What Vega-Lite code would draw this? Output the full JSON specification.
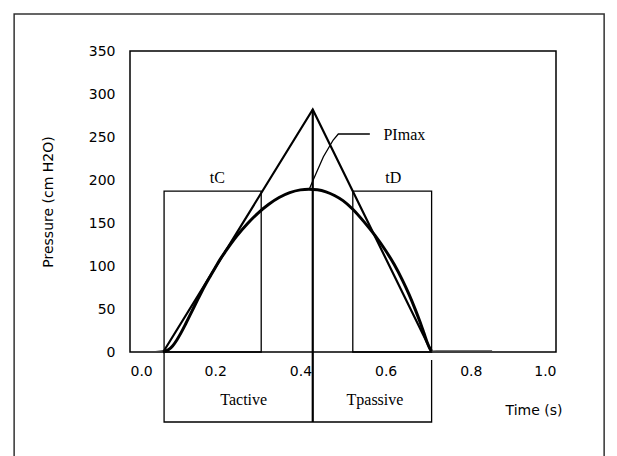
{
  "$schema": "https://vega.github.io/schema/vega-lite/v6.json",
  "width": 426,
  "height": 301,
  "autosize": {"type": "none"},
  "padding": {"left": 130, "top": 51, "right": 61, "bottom": 104},
  "background": "white",
  "config": {
    "view": {"stroke": "black", "strokeWidth": 1.5},
    "axis": {"grid": false, "ticks": false, "domain": false, "labelFont": "DejaVu Sans", "labelFontSize": 14, "labelColor": "black", "titleFont": "DejaVu Sans", "titleFontSize": 14, "titleFontWeight": "normal", "titleColor": "black"}
  },
  "datasets": {
    "curve": [
      {"t": 0.078, "p": 0}, {"t": 0.09, "p": 2.5}, {"t": 0.1, "p": 7}, {"t": 0.11, "p": 14},
      {"t": 0.12, "p": 22.5}, {"t": 0.13, "p": 32}, {"t": 0.145, "p": 47}, {"t": 0.16, "p": 62},
      {"t": 0.175, "p": 76.5}, {"t": 0.19, "p": 89.5}, {"t": 0.2, "p": 98}, {"t": 0.212, "p": 108},
      {"t": 0.225, "p": 117.5}, {"t": 0.25, "p": 134.5}, {"t": 0.275, "p": 148.9}, {"t": 0.3, "p": 161.3},
      {"t": 0.325, "p": 171.5}, {"t": 0.35, "p": 179.6}, {"t": 0.375, "p": 185.3}, {"t": 0.4, "p": 188.5},
      {"t": 0.42, "p": 189.3}, {"t": 0.44, "p": 188.6}, {"t": 0.46, "p": 186.2}, {"t": 0.48, "p": 182},
      {"t": 0.5, "p": 176}, {"t": 0.523, "p": 166}, {"t": 0.55, "p": 151}, {"t": 0.575, "p": 135.5},
      {"t": 0.6, "p": 118}, {"t": 0.62, "p": 102}, {"t": 0.64, "p": 83}, {"t": 0.655, "p": 67},
      {"t": 0.67, "p": 49}, {"t": 0.68, "p": 36}, {"t": 0.69, "p": 22}, {"t": 0.697, "p": 12},
      {"t": 0.703, "p": 5}, {"t": 0.708, "p": 1}
    ],
    "tails": [
      {"seg": "left", "t": 0.045, "p": 0}, {"seg": "left", "t": 0.06, "p": 0.5}, {"seg": "left", "t": 0.078, "p": 1.5},
      {"seg": "right", "t": 0.708, "p": 1}, {"seg": "right", "t": 0.72, "p": 1.2}, {"seg": "right", "t": 0.85, "p": 1.2}
    ],
    "thick": [
      {"seg": "triangle", "o": 1, "t": 0.078, "p": 0},
      {"seg": "triangle", "o": 2, "t": 0.429, "p": 282},
      {"seg": "triangle", "o": 3, "t": 0.708, "p": 0},
      {"seg": "center", "o": 1, "t": 0.429, "p": 282},
      {"seg": "center", "o": 2, "t": 0.429, "p": -81.4}
    ],
    "thin": [
      {"seg": "bracket", "o": 1, "t": 0.08, "p": 0},
      {"seg": "bracket", "o": 2, "t": 0.08, "p": -81.4},
      {"seg": "bracket", "o": 3, "t": 0.708, "p": -81.4},
      {"seg": "bracket", "o": 4, "t": 0.708, "p": -9.3},
      {"seg": "leader", "o": 1, "t": 0.563, "p": 253.5},
      {"seg": "leader", "o": 2, "t": 0.489, "p": 253.5},
      {"seg": "leader", "o": 3, "t": 0.477, "p": 246.5},
      {"seg": "leader", "o": 4, "t": 0.454, "p": 227},
      {"seg": "leader", "o": 5, "t": 0.43, "p": 200},
      {"seg": "leader", "o": 6, "t": 0.421, "p": 189.5}
    ],
    "boxes": [
      {"name": "tC", "t1": 0.08, "t2": 0.308, "p1": 0, "p2": 187},
      {"name": "tD", "t1": 0.523, "t2": 0.708, "p1": 0, "p2": 187}
    ],
    "labels": [
      {"text": "tC", "t": 0.205, "p": 196.2},
      {"text": "tD", "t": 0.618, "p": 196.2},
      {"text": "Tactive", "t": 0.267, "p": -61.6},
      {"text": "Tpassive", "t": 0.575, "p": -61.6}
    ],
    "peak": [
      {"text": "PImax", "t": 0.595, "p": 246.5}
    ],
    "frame": [
      {"t1": -0.272, "t2": 1.113, "p1": -140, "p2": 393}
    ]
  },
  "layer": [
    {
      "data": {"name": "frame"},
      "mark": {"type": "rect", "fill": null, "stroke": "#333333", "strokeWidth": 1.5, "clip": false},
      "encoding": {
        "x": {"field": "t1", "type": "quantitative", "scale": {"domain": [0, 1]}, "axis": {"values": [0, 0.2, 0.4, 0.6, 0.8, 1.0], "format": ".1f", "labelPadding": 12, "title": "Time (s)", "titleX": 432, "titleY": 58, "titleAlign": "right", "titleBaseline": "middle"}},
        "x2": {"field": "t2"},
        "y": {"field": "p1", "type": "quantitative", "scale": {"domain": [0, 350]}, "axis": {"values": [0, 50, 100, 150, 200, 250, 300, 350], "labelPadding": 15, "title": "Pressure (cm H2O)", "titlePadding": 33}},
        "y2": {"field": "p2"}
      }
    },
    {
      "data": {"name": "boxes"},
      "mark": {"type": "rect", "fill": null, "stroke": "black", "strokeWidth": 1.3},
      "encoding": {
        "x": {"field": "t1", "type": "quantitative"},
        "x2": {"field": "t2"},
        "y": {"field": "p1", "type": "quantitative"},
        "y2": {"field": "p2"}
      }
    },
    {
      "data": {"name": "thin"},
      "mark": {"type": "line", "color": "black", "strokeWidth": 1.3},
      "encoding": {
        "x": {"field": "t", "type": "quantitative"},
        "y": {"field": "p", "type": "quantitative"},
        "detail": {"field": "seg"},
        "order": {"field": "o"}
      }
    },
    {
      "data": {"name": "thick"},
      "mark": {"type": "line", "color": "black", "strokeWidth": 2.2},
      "encoding": {
        "x": {"field": "t", "type": "quantitative"},
        "y": {"field": "p", "type": "quantitative"},
        "detail": {"field": "seg"},
        "order": {"field": "o"}
      }
    },
    {
      "data": {"name": "tails"},
      "mark": {"type": "line", "color": "#444444", "strokeWidth": 1.3},
      "encoding": {
        "x": {"field": "t", "type": "quantitative"},
        "y": {"field": "p", "type": "quantitative"},
        "detail": {"field": "seg"}
      }
    },
    {
      "data": {"name": "curve"},
      "mark": {"type": "line", "color": "black", "strokeWidth": 3, "interpolate": "monotone"},
      "encoding": {
        "x": {"field": "t", "type": "quantitative"},
        "y": {"field": "p", "type": "quantitative"}
      }
    },
    {
      "data": {"name": "labels"},
      "mark": {"type": "text", "font": "Liberation Serif", "fontSize": 16, "color": "black", "align": "center", "baseline": "alphabetic"},
      "encoding": {
        "x": {"field": "t", "type": "quantitative"},
        "y": {"field": "p", "type": "quantitative"},
        "text": {"field": "text"}
      }
    },
    {
      "data": {"name": "peak"},
      "mark": {"type": "text", "font": "Liberation Serif", "fontSize": 16, "color": "black", "align": "left", "baseline": "alphabetic"},
      "encoding": {
        "x": {"field": "t", "type": "quantitative"},
        "y": {"field": "p", "type": "quantitative"},
        "text": {"field": "text"}
      }
    }
  ]
}
